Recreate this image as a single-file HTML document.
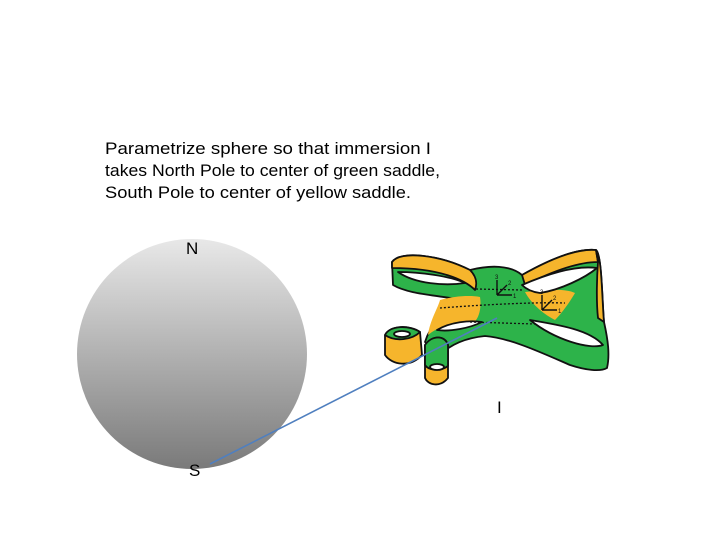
<!DOCTYPE html>
<html><head><style>
html,body{margin:0;padding:0;background:#fff;}
svg{display:block;}
text{font-family:"Liberation Sans",sans-serif;}
</style></head><body>
<svg width="720" height="540" viewBox="0 0 720 540" xmlns="http://www.w3.org/2000/svg">
<defs>
<linearGradient id="g" x1="0" y1="0" x2="0" y2="1">
<stop offset="0" stop-color="#e8e8e8"/>
<stop offset="1" stop-color="#7a7a7a"/>
</linearGradient>
</defs>
<text x="105" y="154" font-size="16.8" fill="#000" textLength="326" lengthAdjust="spacingAndGlyphs">Parametrize sphere so that immersion I</text>
<text x="105" y="176" font-size="16.8" fill="#000" textLength="335" lengthAdjust="spacingAndGlyphs">takes North Pole to center of green saddle,</text>
<text x="105" y="198" font-size="16.8" fill="#000" textLength="306" lengthAdjust="spacingAndGlyphs">South Pole to center of yellow saddle.</text>
<circle cx="192" cy="354" r="115" fill="url(#g)"/>
<text x="186" y="254" font-size="17">N</text>
<text x="189" y="476" font-size="17">S</text>
<text x="497" y="413" font-size="17">I</text>
<g stroke="#111" stroke-width="1.8" stroke-linejoin="round">
<path d="M392,262 C400,250 440,255 470,270 C490,265 510,265 522,275 C545,262 575,248 596,250 C602,255 602,300 604,322 C608,340 610,355 607,368 C600,372 585,370 570,365 C540,352 510,338 485,336 C465,338 450,345 440,355 L425,342 C430,325 445,310 460,300 C440,295 410,295 393,285 Z" fill="#2db34a"/>
<path d="M392,262 C400,250 440,255 470,270 C475,275 478,282 475,290 C465,280 440,268 392,268 Z" fill="#f6b52c"/>
<path d="M440,300 C455,296 470,295 480,297 C482,310 478,322 470,325 C455,322 440,325 428,335 C430,320 438,308 440,300 Z" fill="#f6b52c" stroke="none"/>
<path d="M525,292 C545,290 565,288 575,293 C568,305 560,315 555,320 C545,315 532,305 525,292 Z" fill="#f6b52c" stroke="none"/>
<path d="M522,275 C545,262 575,248 596,250 L598,262 C575,262 545,275 525,285 Z" fill="#f6b52c"/>
<path d="M596,250 C602,255 602,300 604,322 L598,318 C596,300 597,275 598,262 Z" fill="#f6b52c"/>
<path d="M398,272 C420,272 450,276 465,283 C445,286 415,284 398,272 Z" fill="#fff"/>
<path d="M522,285 C545,275 575,265 597,268 C585,278 560,290 540,293 C532,292 526,289 522,285 Z" fill="#fff"/>
<path d="M530,320 C560,325 590,330 603,345 C590,350 555,340 530,320 Z" fill="#fff"/>
<path d="M437,330 C450,322 470,320 482,322 C470,328 450,332 437,330 Z" fill="#fff"/>
<path d="M385,335 C390,325 410,325 420,332 L422,355 C410,368 392,365 385,355 Z" fill="#f6b52c"/>
<path d="M385,335 C390,325 410,325 420,332 C412,340 395,342 385,335 Z" fill="#2db34a"/>
<ellipse cx="402" cy="334" rx="8" ry="3" fill="#fff"/>
<path d="M425,345 C432,335 445,335 448,345 L448,378 C440,388 428,385 425,378 Z" fill="#f6b52c"/>
<path d="M425,345 C432,335 445,335 448,345 L448,366 C440,372 428,370 425,365 Z" fill="#2db34a"/>
<ellipse cx="437" cy="367" rx="7" ry="3" fill="#fff"/>
</g>
<g stroke="#111" stroke-width="1.3" stroke-dasharray="2,2" fill="none">
<path d="M476,289 L522,290"/>
<path d="M440,308 C480,305 530,302 565,303"/>
<path d="M470,322 L535,324"/>
</g>
<g stroke="#111" stroke-width="1.4" fill="none">
<path d="M497,295 L497,280 M497,295 L512,295 M497,295 L507,285"/>
<path d="M542,310 L542,295 M542,310 L557,310 M542,310 L552,300"/>
</g>
<g font-size="6" fill="#111">
<text x="495" y="279">3</text><text x="508" y="285">2</text><text x="513" y="298">1</text>
<text x="540" y="294">3</text><text x="553" y="300">2</text><text x="558" y="313">1</text>
</g>
<line x1="210" y1="464" x2="497" y2="318" stroke="#4f7fbf" stroke-width="1.6"/>
</svg>
</body></html>
